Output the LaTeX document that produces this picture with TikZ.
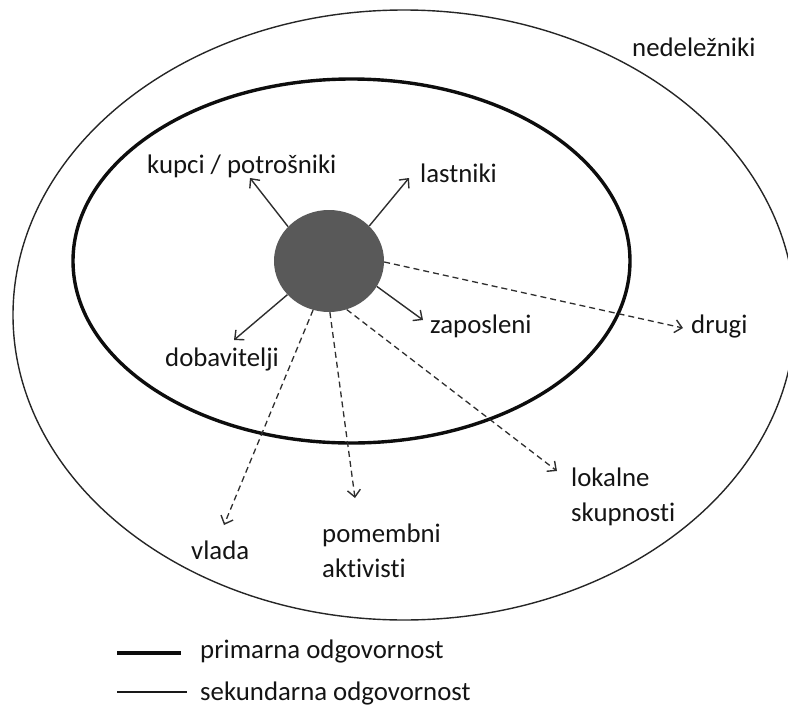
\documentclass[tikz,border=0pt]{standalone}
\usepackage{fontspec}
\setmainfont{Carlito}[Ligatures=NoCommon]
\usetikzlibrary{arrows.meta,shapes.geometric}
\definecolor{coregray}{HTML}{595959}
\definecolor{inkgray}{HTML}{2E2E2E}
\begin{document}
\begin{tikzpicture}[x=1pt,y=-1pt,
  lbl/.style={font=\fontsize{26.8}{35}\selectfont, text=black!92, inner sep=0pt, anchor=base west, align=left},
  primary/.style={line width=3.4pt, draw=black!95},
  secondary/.style={line width=1.4pt, draw=black!85},
  solidarrow/.style={line width=1.4pt, draw=inkgray,
    -{Straight Barb[length=7pt,width=13pt,line width=1.4pt]}},
  dasharrow/.style={solidarrow, line width=1.3pt, dash pattern=on 6pt off 4pt}]
\useasboundingbox (0,0) rectangle (788,718);
\clip (0,0) rectangle (788,718);

% stakeholder rings
\draw[secondary] (404,315) ellipse [x radius=391pt, y radius=305pt];
\draw[primary] (351.5,261) ellipse [x radius=278.5pt, y radius=182pt];

% the company
\node[ellipse, fill=coregray, minimum width=110pt, minimum height=102pt, inner sep=0pt] (core) at (329,261) {};

% arrow ends
\coordinate (tKupci) at (250,178);
\coordinate (tLast) at (409,178);
\coordinate (tZap) at (423,320);
\coordinate (tDob) at (234,340);
\coordinate (tDrugi) at (683,328);
\coordinate (tVlada) at (224,525);
\coordinate (tPom) at (355,498);
\coordinate (tLok) at (557,471);

% primary stakeholders
\draw[solidarrow] (core.140) -- (tKupci);
\draw[solidarrow] (core.41) -- (tLast);
\draw[solidarrow] (core.-28) -- (tZap);
\draw[solidarrow] (core.219) -- (tDob);

% secondary stakeholders
\draw[dasharrow] (core.-1) -- (tDrugi);
\draw[dasharrow] (core.252) -- (tVlada);
\draw[dasharrow] (core.-89) -- (tPom);
\draw[dasharrow] (core.-70) -- (tLok);

% labels (multi-line nodes sit on the baseline of their last line)
\node[lbl] (nNedel) at (632,56) {nedeležniki};
\node[lbl] (nKupci) at (147,173) {kupci / potrošniki};
\node[lbl] (nLast) at (420,182) {lastniki};
\node[lbl] (nZap) at (430,333) {zaposleni};
\node[lbl] (nDob) at (165,366) {dobavitelji};
\node[lbl] (nDrugi) at (691,333) {drugi};
\node[lbl] (nVlada) at (191,559) {vlada};
\node[lbl] (nPom) at (322,577) {pomembni\\aktivisti};
\node[lbl] (nLok) at (571,521) {lokalne\\skupnosti};

% legend
\coordinate (lpA) at (117,653);
\coordinate (lpB) at (181,653);
\coordinate (lsA) at (117,692);
\coordinate (lsB) at (187,692);
\draw[primary] (lpA) -- (lpB);
\draw[line width=1.2pt, draw=black!90] (lsA) -- (lsB);
\node[lbl] (nPrim) at (200,658) {primarna odgovornost};
\node[lbl] (nSek) at (200,700) {sekundarna odgovornost};
\end{tikzpicture}
\end{document}
